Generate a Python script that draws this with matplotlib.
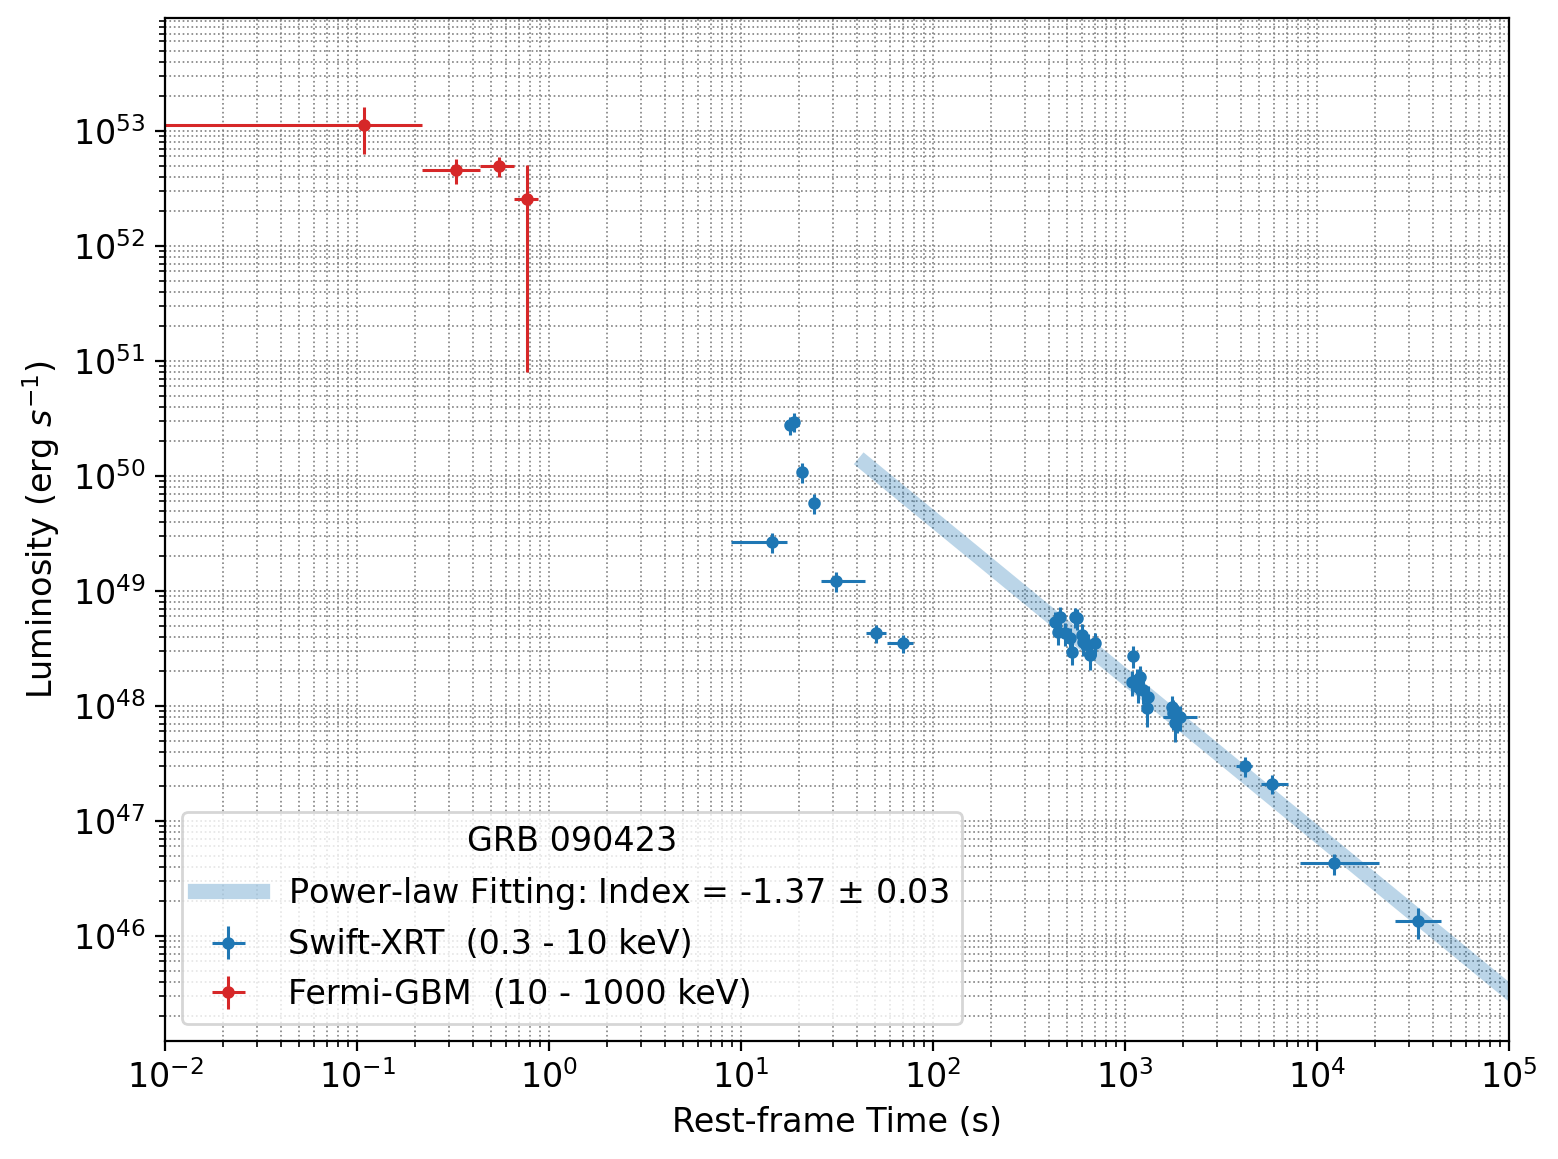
import numpy as np
import matplotlib.pyplot as plt

# Swift-XRT (0.3 - 10 keV) 광도곡선 데이터, 그림에서 읽은 값.
xrt_t = [14.5, 18.0, 18.9, 20.8, 24.0, 31.3, 50.5, 69.8,
         432, 459, 448, 487, 518, 530, 550, 563, 597, 604, 641, 657, 698,
         1101, 1087, 1155, 1197, 1169, 1242, 1318, 1303,
         1758, 1779, 1866, 1821, 1932,
         4217, 5834, 12270, 33570]
xrt_t_lo = [5.6, 0.5, 0.5, 0.4, 0.5, 5.2, 5.9, 12.4,
            15, 15, 15, 15, 18, 18, 18, 18, 20, 20, 20, 22, 22,
            35, 35, 35, 35, 35, 40, 40, 40,
            60, 60, 60, 60, 350,
            430, 727, 4120, 8110]
xrt_t_hi = [2.9, 0.5, 0.5, 0.4, 0.5, 13.0, 6.4, 8.9,
            15, 15, 15, 15, 18, 18, 18, 18, 20, 20, 20, 22, 22,
            35, 35, 35, 35, 35, 40, 40, 40,
            60, 60, 60, 60, 440,
            363, 1229, 8780, 10670]
xrt_L = [2.67e49, 2.77e50, 2.95e50, 1.08e50, 5.8e49, 1.22e49, 4.3e48, 3.5e48,
         5.37e48, 5.94e48, 4.40e48, 4.31e48, 3.90e48, 2.95e48, 5.94e48, 5.82e48,
         4.14e48, 3.60e48, 3.39e48, 2.77e48, 3.53e48,
         2.72e48, 1.62e48, 1.68e48, 1.79e48, 1.46e48, 1.38e48, 1.20e48, 9.6e47,
         9.8e47, 8.7e47, 8.0e47, 7.1e47, 8.0e47,
         3.0e47, 2.1e47, 4.3e46, 1.35e46]
xrt_L_err = [0.53e49, 0.5e50, 0.55e50, 0.22e50, 1.1e49, 0.25e49, 0.8e48, 0.6e48,
             1.2e48, 1.3e48, 1.0e48, 1.0e48, 0.9e48, 0.7e48, 1.2e48, 1.2e48,
             1.0e48, 0.9e48, 0.8e48, 0.7e48, 0.8e48,
             0.6e48, 0.4e48, 0.4e48, 0.45e48, 0.4e48, 0.35e48, 0.3e48, 0.3e48,
             0.25e48, 0.25e48, 0.22e48, 0.22e48, 0.2e48,
             0.6e47, 0.4e47, 0.9e46, 0.4e46]

# Fermi-GBM (10 - 1000 keV)
gbm_t = [0.109, 0.328, 0.547, 0.766]
gbm_t_err = [0.109, 0.109, 0.109, 0.109]
gbm_L = [1.13e53, 4.58e52, 4.96e52, 2.57e52]
gbm_L_err = [0.5e53, 1.1e52, 1.0e52, 2.49e52]

# 멱함수 피팅 결과
fit_index = -1.37
fit_index_err = 0.03
fit_norm = 10**52.363
fit_t = np.array([44.0, 1e5])

fig = plt.figure(figsize=(7.79, 5.795), dpi=200)
ax = fig.add_axes([0.1059, 0.1018, 0.8627, 0.8827])

ax.plot(fit_t, fit_norm * fit_t**fit_index, color='tab:blue', alpha=0.3, lw=5.5,
        label='Power-law Fitting: Index = %.2f $\\pm$ %.2f' % (fit_index, fit_index_err))

ax.errorbar(xrt_t, xrt_L, xerr=[xrt_t_lo, xrt_t_hi], yerr=xrt_L_err,
            fmt='o', ms=3.5, elinewidth=1.1, color='tab:blue',
            label='Swift-XRT  (0.3 - 10 keV)')
ax.errorbar(gbm_t, gbm_L, xerr=gbm_t_err, yerr=gbm_L_err,
            fmt='o', ms=3.5, elinewidth=1.1, color='tab:red',
            label='Fermi-GBM  (10 - 1000 keV)')

ax.set_xscale('log')
ax.set_yscale('log')
ax.set_xlim(1e-2, 1e5)
ax.set_ylim(1.22e45, 9.6e53)
ax.grid(True, which='both', linestyle=':', color='gray', linewidth=0.6)

ax.set_xlabel('Rest-frame Time (s)', fontsize=12)
ax.set_ylabel('Luminosity (erg $s^{-1}$)', fontsize=12)
ax.tick_params(labelsize=12)

ax.legend(loc='lower left', fontsize=12, title='GRB 090423', title_fontsize=12)

fig.savefig('out.png', dpi=200)
print('--Fin--')
